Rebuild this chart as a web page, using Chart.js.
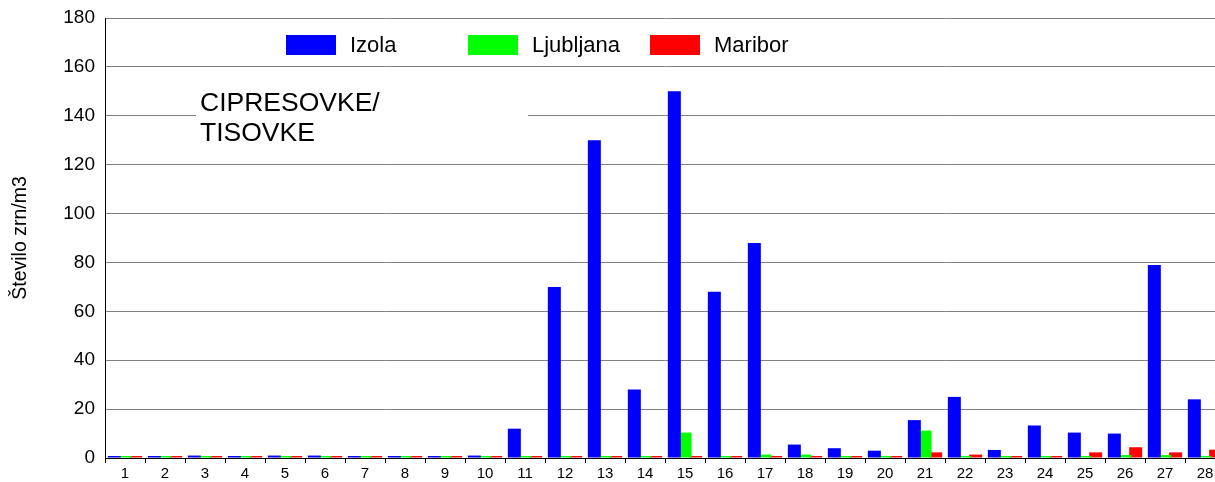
<!DOCTYPE html>
<html lang="sl">
<head>
  <meta charset="UTF-8" />
  <title>Cipresovke / tisovke</title>
  <script src="https://cdn.jsdelivr.net/npm/chart.js"></script>
  <style>
    html, body {
      margin: 0;
      padding: 0;
      background: #ffffff;
      overflow: hidden;
    }
    canvas {
      display: block;
    }
  </style>
</head>
<body>
  <canvas id="chart" width="1225" height="482"></canvas>

  <script>
    const days = ['1','2','3','4','5','6','7','8','9','10','11','12','13','14',
                  '15','16','17','18','19','20','21','22','23','24','25','26','27','28'];
    const izola = [0, 0, 1, 0, 1, 1, 0, 0, 0, 1, 12, 70, 130, 28,
                   150, 68, 88, 5.5, 4, 3, 15.5, 25, 3.3, 13.3, 10.4, 10, 79, 24];
    const ljubljana = [0, 0, 0, 0, 0, 0, 0, 0, 0, 0, 0, 0, 0, 0,
                       10.4, 0, 1.4, 1.4, 0, 0, 11.2, 0, 0, 0, 0, 1.2, 1.2, 0];
    const maribor = [0, 0, 0, 0, 0, 0, 0, 0, 0, 0, 0, 0, 0, 0,
                     0, 0, 0, 0, 0, 0, 2.3, 1.4, 0, 0, 2.3, 4.4, 2.3, 3.4];
    const yTicks = [0, 20, 40, 60, 80, 100, 120, 140, 160, 180];

    const FONT = "'Liberation Sans', Arial, sans-serif";

    // legend drawn in fixed columns like the original
    const legendPlugin = {
      id: 'fixedLegend',
      afterDraw(chart) {
        const ctx = chart.ctx;
        const startX = [286, 468, 650];
        ctx.save();
        ctx.font = '22px ' + FONT;
        ctx.textBaseline = 'middle';
        chart.data.datasets.forEach((ds, i) => {
          ctx.fillStyle = ds.backgroundColor;
          ctx.fillRect(startX[i], 35, 50, 20);
          ctx.fillStyle = '#000';
          ctx.fillText(ds.label, startX[i] + 64, 46);
        });
        ctx.restore();
      }
    };

    // white text box over the grid
    const noteBox = {
      id: 'noteBox',
      beforeDatasetsDraw(chart) {
        const ctx = chart.ctx;
        ctx.save();
        ctx.fillStyle = '#fff';
        ctx.fillRect(196, 88, 332, 64);
        ctx.fillStyle = '#000';
        ctx.font = '26.5px ' + FONT;
        ctx.textBaseline = 'middle';
        ctx.fillText('CIPRESOVKE/', 200, 104);
        ctx.fillText('TISOVKE', 200, 134);
        ctx.restore();
      }
    };

    const barOpts = {
      categoryPercentage: 0.8,
      barPercentage: 1.22,
      minBarLength: 2,
      borderWidth: 0
    };

    new Chart(document.getElementById('chart'), {
      type: 'bar',
      data: {
        labels: days,
        datasets: [
          { label: 'Izola', data: izola, backgroundColor: '#0000ff', ...barOpts },
          { label: 'Ljubljana', data: ljubljana, backgroundColor: '#00ff00', ...barOpts },
          { label: 'Maribor', data: maribor, backgroundColor: '#ff0000', ...barOpts }
        ]
      },
      options: {
        responsive: false,
        animation: false,
        layout: { padding: { top: 18, left: 0, right: 0, bottom: 0 } },
        plugins: {
          legend: { display: false },
          tooltip: { enabled: false }
        },
        scales: {
          x: {
            offset: true,
            grid: {
              offset: true,
              drawOnChartArea: false,
              drawTicks: true,
              tickLength: 5,
              color: '#000'
            },
            border: { color: '#000', width: 1 },
            ticks: {
              color: '#000',
              font: { family: FONT, size: 15 },
              padding: 2,
              maxRotation: 0,
              autoSkip: false
            },
            afterFit(scale) { scale.height = 24; }
          },
          y: {
            min: 0,
            max: 180,
            afterBuildTicks(scale) {
              scale.ticks = yTicks.map(v => ({ value: v }));
            },
            grid: {
              color: '#808080',
              drawTicks: false
            },
            border: { color: '#000', width: 1 },
            ticks: {
              color: '#000',
              font: { family: FONT, size: 19 },
              padding: 10
            },
            title: {
              display: true,
              text: 'Število zrn/m3',
              color: '#000',
              font: { family: FONT, size: 19.5 },
              padding: { top: 9, bottom: 0 }
            },
            afterFit(scale) {
              scale.width = 105;
              scale.paddingTop = 0;
              scale.paddingBottom = 0;
            }
          }
        }
      },
      plugins: [noteBox, legendPlugin]
    });
  </script>
</body>
</html>
